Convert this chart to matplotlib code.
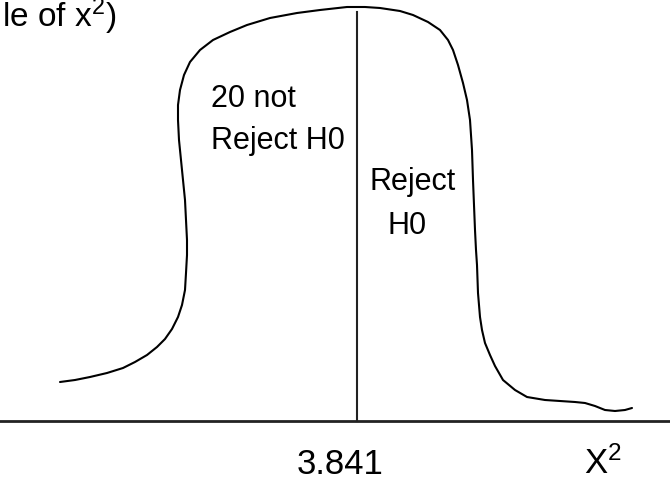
import matplotlib
matplotlib.use("Agg")
import matplotlib.pyplot as plt

plt.rcParams['font.family'] = ['Liberation Sans', 'DejaVu Sans']
plt.rcParams['mathtext.default'] = 'regular'

# hand drawn curve (pixel coords, y down)
curve_x = [60, 75, 90, 107, 123, 135, 147, 157, 165, 172, 178, 182, 185, 186, 187, 187,
           186, 185, 183, 181, 179, 178, 178, 180, 184, 190, 200, 213, 230, 247, 270, 297,
           320, 347, 365, 380, 400, 413, 428, 440, 448, 453, 458, 463, 467, 470, 472, 473,
           475, 476, 477, 478, 480, 482, 485, 490, 495, 503, 515, 527, 545, 560, 575, 585,
           595, 605, 615, 625, 632]
curve_y = [382, 380, 377, 373, 368, 362, 355, 347, 339, 329, 317, 305, 290, 273, 255, 240,
           220, 200, 180, 160, 140, 120, 105, 90, 75, 62, 50, 40, 32, 25, 18, 13,
           10, 7, 7, 8, 11, 15, 22, 30, 40, 50, 65, 83, 100, 120, 150, 180,
           230, 250, 265, 293, 317, 330, 343, 355, 366, 380, 390, 397, 400, 401, 402, 403,
           406, 410, 411, 410, 408]

critical = 357      # where the 3.841 line stands
axis_y = 421

fig = plt.figure(figsize=(6.7, 4.8), dpi=100)
ax = fig.add_axes([0, 0, 1, 1])
ax.set_xlim(0, 670)
ax.set_ylim(480, 0)
ax.axis('off')

ax.plot(curve_x, curve_y, color='black', lw=1.5, solid_joinstyle='round', solid_capstyle='round')
ax.plot([0, 670], [axis_y, axis_y], color='#222222', lw=2)
ax.plot([critical, critical], [12, axis_y], color='#222222', lw=1.5)

# labels
ax.text(2, 27, 'le of x$^2$)', fontsize=24, va='baseline', ha='left')
ax.text(211, 107, '20 not', fontsize=22, va='baseline', ha='left')
ax.text(211, 149, 'Reject H0', fontsize=22, va='baseline', ha='left')
ax.text(370, 190, 'Reject', fontsize=22, va='baseline', ha='left')
ax.text(387, 234, 'H0', fontsize=22, va='baseline', ha='left')
ax.text(297, 474, '3.841', fontsize=25, va='baseline', ha='left')
ax.text(584, 474, 'X$^2$', fontsize=25, va='baseline', ha='left')

plt.savefig('out.png', dpi=100)
